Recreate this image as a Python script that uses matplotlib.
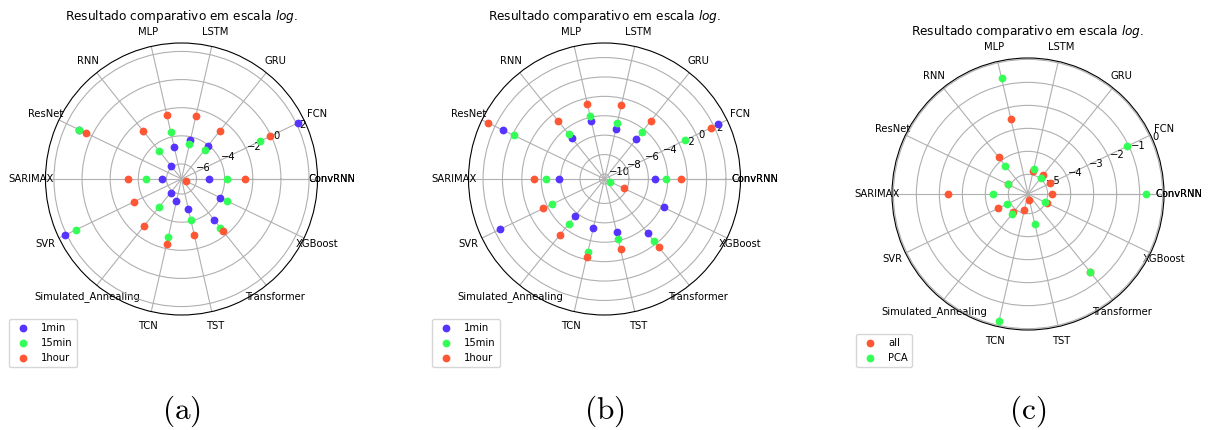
import numpy as np
import matplotlib
matplotlib.use('Agg')
import matplotlib.pyplot as plt

categories = ['ConvRNN', 'FCN', 'GRU', 'LSTM', 'MLP', 'RNN', 'ResNet', 'SARIMAX',
              'SVR', 'Simulated_Annealing', 'TCN', 'TST', 'Transformer', 'XGBoost']

# (a) log values per granularity
a_1min = [-5.14, 2.14, -4.07, -4.21, -4.75, -5.86, 0.99, -5.67, 2.11, -5.83, -5.45, -4.86, -3.36, -4.00]
a_15min = [-3.83, -0.86, -4.43, -4.55, -3.67, -4.50, 0.99, -4.52, 1.24, -4.55, -2.86, -4.05, -2.64, -3.50]
a_1hour = [-2.59, -0.05, -2.69, -2.45, -2.43, -2.67, 0.50, -3.24, -3.34, -2.82, -2.31, -2.95, -2.36, -6.69]

# (b)
b_1min = [-5.33, 2.45, -5.30, -5.19, -4.37, -5.14, 1.10, -5.78, 1.42, -5.61, -5.30, -4.88, -3.36, -3.75]
b_15min = [-4.13, -1.28, -4.37, -4.57, -3.85, -4.57, -0.11, -4.51, -4.57, -4.63, -2.79, -4.16, -2.38, -9.87]
b_1hour = [-2.65, 1.64, -2.86, -2.72, -2.55, -2.86, 2.81, -3.30, -3.53, -3.13, -2.31, -3.10, -1.52, -8.32]

# (c)
c_all = [-4.80, -4.80, -4.79, -4.83, -2.50, -3.82, -4.87, -2.38, -4.41, -4.84, -5.15, -5.57, -1.54, -4.95]
c_pca = [-0.74, -1.07, -4.98, -4.74, -0.69, -4.28, -4.87, -4.35, -4.82, -4.75, -0.17, -4.53, -1.54, -5.04]

title = r'Resultado comparativo em escala $log$.'
C_BLUE, C_GREEN, C_RED = '#5733FF', '#33FF57', '#FF5733'

W, H = 1211, 430
fig = plt.figure(figsize=(W / 100, H / 100), dpi=100)

angles = np.linspace(0, 2 * np.pi, len(categories), endpoint=False)
tick_deg = np.degrees(np.append(angles, 2 * np.pi))
tick_lab = categories + [categories[0]]

FS = 7.2


def make_ax(cx, cy, r, rlim, rticks):
    ax = fig.add_axes([(cx - r) / W, (H - cy - r) / H, 2 * r / W, 2 * r / H], projection='polar')
    ax.set_thetagrids(tick_deg, tick_lab, fontsize=FS)
    ax.set_ylim(*rlim)
    ax.set_rticks(rticks)
    ax.tick_params(axis='y', labelsize=FS)
    ax.tick_params(axis='x', pad=0)
    ax.grid(True, color='#b0b0b0', lw=0.8)
    ax.text(0.5, (r + 163) / (2 * r), title, ha='center', va='center',
            transform=ax.transAxes, fontsize=8.7)
    return ax


series_sets = [
    (181.5, 179, 136, (-7.07, 2.6), [-6, -4, -2, 0, 2],
     [(a_1min, C_BLUE, '1min'), (a_15min, C_GREEN, '15min'), (a_1hour, C_RED, '1hour')],
     9, 319, '(a)'),
    (604.5, 179, 136, (-10.52, 3.5), [-10, -8, -6, -4, -2, 0, 2],
     [(b_1min, C_BLUE, '1min'), (b_15min, C_GREEN, '15min'), (b_1hour, C_RED, '1hour')],
     432, 319, '(b)'),
    (1028, 194, 136, (-5.855, 0.06), [-5, -4, -3, -2, -1, 0],
     [(c_all, C_RED, 'all'), (c_pca, C_GREEN, 'PCA')],
     856, 334, '(c)'),
]

for cx, cy, r, rlim, rticks, series, lx, ly, cap in series_sets:
    ax = make_ax(cx, cy, r, rlim, rticks)
    for vals, col, lab in series:
        ax.plot(angles, vals, 'o', color=col, ms=4.6, label=lab, zorder=3)
    ax.legend(loc='upper left', bbox_to_anchor=(lx / W, 1 - ly / H),
              bbox_transform=fig.transFigure, borderaxespad=0, fontsize=FS)
    fig.text(cx / W, 1 - 411 / H, r'$\mathrm{' + cap + '}$', ha='center', va='center',
             fontsize=22.5, math_fontfamily='cm')

fig.savefig('out.png', dpi=100)
